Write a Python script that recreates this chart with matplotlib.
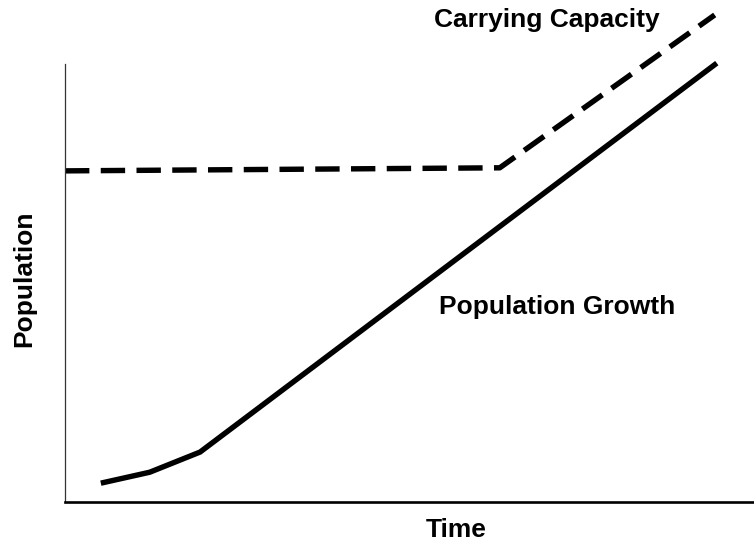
import matplotlib
matplotlib.use("Agg")
import matplotlib.pyplot as plt

# Values (time and population in arbitrary units)
growth_time = [5.2, 12.3, 19.6, 94.6]
growth_pop = [4.3, 6.8, 11.4, 100.2]

capacity_time = [0, 63.1, 94.3]
capacity_pop = [75.6, 76.3, 111.2]

plt.rcParams["font.family"] = ["Liberation Sans", "DejaVu Sans"]

fig = plt.figure(figsize=(7.54, 5.44), dpi=100)
ax = fig.add_axes([65 / 754, 42 / 544, 689 / 754, 438 / 544])

ax.plot(growth_time, growth_pop, color="black", lw=3.9,
        solid_joinstyle="miter", solid_capstyle="butt", clip_on=False)
ax.plot(capacity_time, capacity_pop, color="black", lw=3.9,
        dashes=(4.5, 2.1), dash_capstyle="butt", clip_on=False)

ax.text(70.0, 108.4, "Carrying Capacity", ha="center", va="baseline",
        fontsize=19, fontweight="bold")
ax.text(71.4, 42.9, "Population Growth", ha="center", va="baseline",
        fontsize=19, fontweight="bold")

ax.set_xlim(0, 100)
ax.set_ylim(0, 100)
ax.set_xticks([])
ax.set_yticks([])
ax.spines["top"].set_visible(False)
ax.spines["right"].set_visible(False)
ax.spines["left"].set_linewidth(0.9)
ax.spines["left"].set_color("#333333")
ax.spines["bottom"].set_linewidth(1.9)

fig.text(456 / 754, 7 / 544, "Time", ha="center", va="baseline",
         fontsize=19, fontweight="bold")
fig.text(24 / 754, 265 / 544, "Population", ha="center", va="center",
         rotation=90, fontsize=19, fontweight="bold")

fig.savefig("out.png", dpi=100)
